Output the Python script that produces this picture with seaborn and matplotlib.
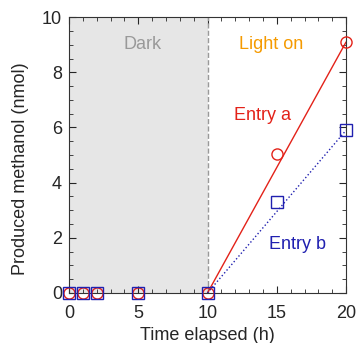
import pandas as pd
import matplotlib
matplotlib.use("Agg")
import matplotlib.pyplot as plt
import seaborn as sns
from matplotlib.ticker import MultipleLocator

# dati
tempo = [0, 1, 2, 5, 10, 15, 20]
entry_a = [0, 0, 0, 0, 0, 5.05, 9.1]
entry_b = [0, 0, 0, 0, 0, 3.3, 5.9]

# rette di fit (fase luce)
fit_x = [10, 20]
fit_a = [0, 9.1]
fit_b = [0, 5.9]

sns.set_style("ticks")
plt.rcParams['font.family'] = ['Liberation Sans', 'DejaVu Sans']

rosso = '#e32219'
blu = '#2020b0'

df = pd.DataFrame({'t': tempo, 'a': entry_a, 'b': entry_b})
df_fit = pd.DataFrame({'t': fit_x, 'a': fit_a, 'b': fit_b})

fig = plt.figure(figsize=(3.59, 3.43), dpi=100)
ax = fig.add_axes([0.192, 0.146, 0.772, 0.804])

# zona buio
ax.axvspan(0, 10, color='#e6e6e6', zorder=0, lw=0)
ax.axvline(10, color='#999999', ls='--', lw=1, zorder=1)

sns.lineplot(data=df_fit, x='t', y='a', ax=ax, color=rosso, lw=1)
sns.lineplot(data=df_fit, x='t', y='b', ax=ax, color=blu, lw=1, ls=':')

ax.plot(df['t'], df['a'], 'o', ms=8, mfc='none', mec=rosso, mew=1, clip_on=False, zorder=4)
ax.plot(df['t'], df['b'], 's', ms=8.5, mfc='none', mec=blu, mew=1, clip_on=False, zorder=4)

ax.set_xlim(0, 20)
ax.set_ylim(0, 10)
ax.xaxis.set_major_locator(MultipleLocator(5))
ax.xaxis.set_minor_locator(MultipleLocator(1))
ax.yaxis.set_major_locator(MultipleLocator(2))
ax.yaxis.set_minor_locator(MultipleLocator(0.5))
ax.tick_params(which='both', direction='in', top=True, right=True, labelsize=13)
ax.tick_params(axis='x', pad=9)
ax.tick_params(axis='y', pad=5)
ax.tick_params(which='major', length=5, width=0.8)
ax.tick_params(which='minor', length=3, width=0.6)
for s in ax.spines.values():
    s.set_linewidth(0.8)
    s.set_color('#333333')

ax.set_xlabel('Time elapsed (h)', fontsize=13)
ax.set_ylabel('Produced methanol (nmol)', fontsize=13)
ax.xaxis.set_label_coords(0.5, -0.122)
ax.yaxis.set_label_coords(-0.145, 0.449)

ax.text(5.3, 9.0, 'Dark', color='#999999', fontsize=13, ha='center', va='center')
ax.text(14.6, 9.0, 'Light on', color='#f59a00', fontsize=13, ha='center', va='center')
ax.text(14.0, 6.45, 'Entry a', color=rosso, fontsize=13, ha='center', va='center')
ax.text(16.5, 1.75, 'Entry b', color=blu, fontsize=13, ha='center', va='center')

fig.savefig('out.png', dpi=100)
